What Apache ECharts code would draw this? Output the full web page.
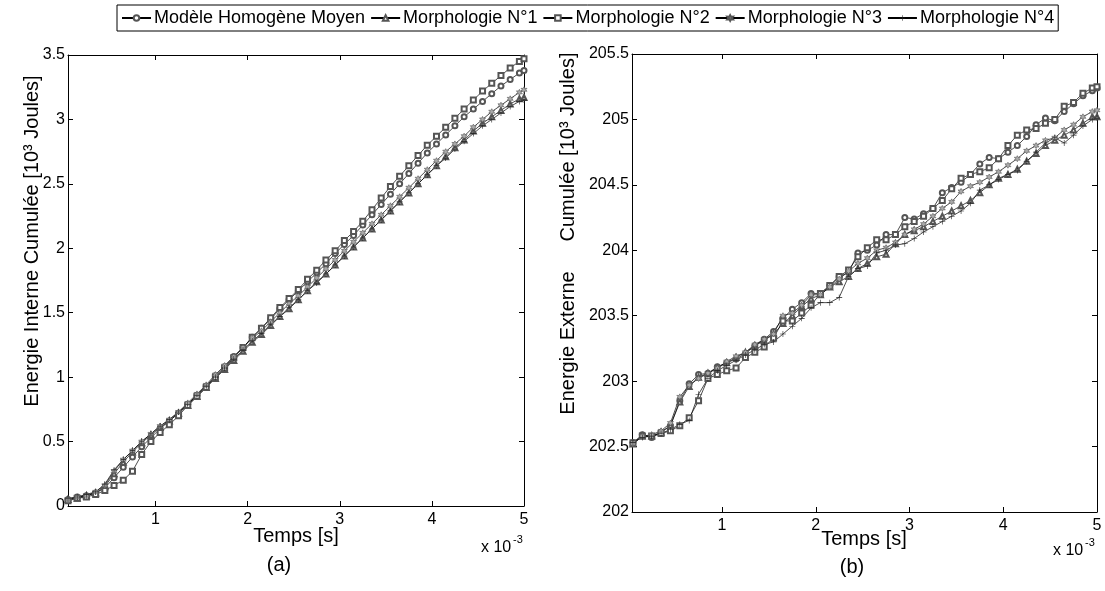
<!DOCTYPE html>
<html>
<head>
<meta charset="utf-8">
<script src="https://cdn.jsdelivr.net/npm/echarts@6/dist/echarts.min.js"></script>
<style>
html,body{margin:0;padding:0;background:#fff;}
#chart{width:1105px;height:591px;}
</style>
</head>
<body>
<div id="chart"></div>
<script>
// ---- data ----
const seriesNames = ['Modèle Homogène Moyen','Morphologie N°1','Morphologie N°2','Morphologie N°3','Morphologie N°4'];
const times = [0.05,0.15,0.25,0.35,0.45,0.55,0.65,0.75,0.85,0.95,1.05,1.15,1.25,1.35,1.45,1.55,1.65,1.75,1.85,1.95,2.05,2.15,2.25,2.35,2.45,2.55,2.65,2.75,2.85,2.95,3.05,3.15,3.25,3.35,3.45,3.55,3.65,3.75,3.85,3.95,4.05,4.15,4.25,4.35,4.45,4.55,4.65,4.75,4.85,4.95,5.0];
const xTickValues = [1,2,3,4,5];

// (a) Energie interne cumulée [10^3 J]
const intModele = [0.05,0.07,0.08,0.10,0.14,0.22,0.30,0.38,0.46,0.53,
0.60,0.66,0.72,0.79,0.86,0.93,1.01,1.08,1.16,1.23,
1.31,1.38,1.45,1.53,1.60,1.67,1.74,1.81,1.88,1.96,
2.03,2.10,2.18,2.26,2.34,2.42,2.50,2.58,2.66,2.74,
2.81,2.88,2.95,3.02,3.08,3.14,3.20,3.26,3.31,3.36,3.38];
const intN1 = [0.05,0.06,0.08,0.10,0.15,0.25,0.34,0.42,0.49,0.55,
0.61,0.66,0.72,0.78,0.85,0.92,0.99,1.06,1.13,1.20,
1.27,1.33,1.40,1.47,1.53,1.60,1.67,1.74,1.80,1.87,
1.94,2.01,2.08,2.15,2.22,2.29,2.36,2.43,2.50,2.57,
2.64,2.71,2.78,2.84,2.91,2.97,3.02,3.07,3.12,3.16,3.17];
const intN2 = [0.04,0.06,0.07,0.09,0.12,0.16,0.20,0.27,0.40,0.50,
0.57,0.63,0.70,0.78,0.85,0.92,1.00,1.07,1.15,1.23,
1.31,1.38,1.46,1.54,1.61,1.68,1.76,1.83,1.91,1.98,
2.06,2.13,2.21,2.30,2.39,2.48,2.56,2.64,2.72,2.80,
2.87,2.94,3.01,3.08,3.15,3.22,3.28,3.34,3.40,3.45,3.47];
const intN3 = [0.05,0.07,0.08,0.11,0.16,0.27,0.36,0.43,0.50,0.56,
0.62,0.67,0.73,0.80,0.87,0.94,1.02,1.09,1.16,1.23,
1.30,1.36,1.43,1.50,1.57,1.63,1.70,1.77,1.84,1.91,
1.98,2.05,2.12,2.19,2.26,2.33,2.40,2.47,2.54,2.61,
2.68,2.75,2.81,2.87,2.94,3.00,3.06,3.11,3.16,3.21,3.23];
const intN4 = [0.06,0.07,0.09,0.11,0.17,0.28,0.36,0.43,0.50,0.56,
0.62,0.67,0.73,0.79,0.86,0.93,1.00,1.07,1.14,1.21,
1.28,1.34,1.41,1.47,1.54,1.60,1.67,1.73,1.80,1.87,
1.94,2.01,2.08,2.15,2.22,2.29,2.36,2.43,2.50,2.57,
2.64,2.70,2.77,2.83,2.89,2.95,3.00,3.05,3.10,3.14,3.15];

// (b) Energie externe cumulée [10^3 J]
const extModele = [202.53,202.59,202.57,202.61,202.66,202.85,202.98,203.05,203.06,203.11,
203.14,203.17,203.21,203.27,203.32,203.38,203.48,203.55,203.60,203.67,
203.67,203.73,203.80,203.83,203.98,204.00,204.04,204.12,204.12,204.25,
204.24,204.28,204.32,204.44,204.48,204.52,204.58,204.66,204.71,204.70,
204.75,204.80,204.87,204.96,205.01,204.99,205.06,205.12,205.18,205.22,205.24];
const extN1 = [202.52,202.58,202.58,202.61,202.66,202.84,202.96,203.03,203.06,203.10,
203.14,203.18,203.22,203.27,203.31,203.36,203.44,203.50,203.57,203.63,
203.66,203.72,203.76,203.80,203.86,203.90,203.95,203.97,204.05,204.12,
204.15,204.18,204.22,204.26,204.30,204.34,204.38,204.44,204.50,204.55,
204.58,204.62,204.68,204.74,204.80,204.84,204.88,204.92,204.97,205.02,205.02];
const extN2 = [202.53,202.58,202.58,202.60,202.62,202.66,202.72,202.85,203.02,203.05,
203.08,203.10,203.18,203.22,203.26,203.33,203.46,203.46,203.52,203.58,
203.67,203.73,203.80,203.85,203.95,204.02,204.08,204.08,204.12,204.18,
204.22,204.26,204.32,204.38,204.47,204.55,204.58,204.60,204.63,204.70,
204.80,204.88,204.92,204.93,204.97,205.00,205.10,205.13,205.20,205.24,205.25];
const extN3 = [202.52,202.58,202.59,202.62,202.68,202.88,202.97,203.02,203.06,203.10,
203.15,203.19,203.22,203.28,203.32,203.36,203.50,203.52,203.58,203.66,
203.66,203.72,203.78,203.84,203.90,203.94,204.00,204.02,204.06,204.12,
204.16,204.20,204.26,204.32,204.37,204.45,204.49,204.52,204.56,204.60,
204.65,204.70,204.76,204.80,204.84,204.86,204.92,204.96,205.02,205.06,205.07];
const extN4 = [202.53,202.57,202.58,202.60,202.63,202.67,202.70,202.90,203.02,203.08,
203.12,203.16,203.20,203.24,203.28,203.30,203.36,203.42,203.48,203.56,
203.60,203.60,203.64,203.80,203.86,203.88,203.98,204.00,204.04,204.05,
204.09,204.14,204.18,204.22,204.26,204.30,204.36,204.46,204.50,204.54,
204.58,204.61,204.68,204.75,204.82,204.86,204.82,204.88,204.95,205.00,205.01];

const intSeries = [intModele,intN1,intN2,intN3,intN4];
const extSeries = [extModele,extN1,extN2,extN3,extN4];

// ---- style ----
const FONT = 'Liberation Sans, Arial, Helvetica, sans-serif';
const symbols = [
  'emptyCircle',
  'emptyTriangle',
  'emptyRect',
  'path://M5,0L6.3,2.8L9.3,2.5L7.6,5L9.3,7.5L6.3,7.2L5,10L3.7,7.2L0.7,7.5L2.4,5L0.7,2.5L3.7,2.8Z',
  'path://M4.5,0H5.5V4.5H10V5.5H5.5V10H4.5V5.5H0V4.5H4.5Z'
];
const symbolSizes = [5,5,5,6,6];
const symbolFill = ['#555','#555','#555','#aaa','#222'];

function mkSeries(arrs, gi) {
  return arrs.map((arr, i) => ({
    name: seriesNames[i],
    type: 'line',
    xAxisIndex: gi*2,
    yAxisIndex: gi*2,
    data: times.map((t, k) => [t, arr[k]]),
    symbol: symbols[i],
    symbolSize: symbolSizes[i],
    showAllSymbol: true,
    animation: false,
    lineStyle: {color: '#000', width: 0.7},
    itemStyle: {color: symbolFill[i], borderColor: i===4 ? '#222' : '#555', borderWidth: i===4 ? 0 : 0.6},
    emphasis: {disabled: true}
  }));
}

function xAxes(gi, min) {
  const base = {
    type: 'value', gridIndex: gi, min: min, max: 5,
    axisLine: {show: true, onZero: false, lineStyle: {color: '#000', width: 1}},
    splitLine: {show: false}
  };
  return [
    Object.assign({}, base, {
      position: 'bottom',
      axisTick: {show: true, inside: true, length: 5, customValues: xTickValues, lineStyle: {color: '#000'}},
      axisLabel: {show: true, customValues: xTickValues, color: '#000', fontSize: 16, fontFamily: FONT, margin: 6}
    }),
    Object.assign({}, base, {
      position: 'top',
      axisTick: {show: true, inside: true, length: 5, customValues: xTickValues, lineStyle: {color: '#000'}},
      axisLabel: {show: false}
    })
  ];
}
function yAxes(gi, min, max) {
  const base = {
    type: 'value', gridIndex: gi, min: min, max: max, interval: 0.5,
    axisLine: {show: true, onZero: false, lineStyle: {color: '#000', width: 1}},
    splitLine: {show: false},
    axisTick: {show: true, inside: true, length: 5, lineStyle: {color: '#000'}}
  };
  return [
    Object.assign({}, base, {
      position: 'left',
      axisLabel: {show: true, color: '#000', fontSize: 16, fontFamily: FONT, margin: 3}
    }),
    Object.assign({}, base, {
      position: 'right',
      axisLabel: {show: false}
    })
  ];
}

function txt(x, y, text, size, rot) {
  return {
    type: 'text', x: x, y: y, rotation: rot || 0, silent: true,
    style: {text: text, fontSize: size, fontFamily: FONT, fill: '#000',
      align: 'center', verticalAlign: 'middle', textAlign: 'center', textVerticalAlign: 'middle'}
  };
}
function txtL(x, y, text, size) {
  return {
    type: 'text', x: x, y: y, silent: true,
    style: {text: text, fontSize: size, fontFamily: FONT, fill: '#000',
      align: 'left', verticalAlign: 'middle', textAlign: 'left', textVerticalAlign: 'middle'}
  };
}

const chart = echarts.init(document.getElementById('chart'), null, {renderer: 'canvas'});
chart.setOption({
  backgroundColor: '#fff',
  animation: false,
  legend: {
    data: seriesNames,
    left: 117, top: 5,
    orient: 'horizontal',
    itemWidth: 29, itemHeight: 7, itemGap: 5,
    padding: [4, 4],
    borderColor: '#000', borderWidth: 1,
    backgroundColor: '#fff',
    selectedMode: false,
    textStyle: {fontSize: 18, fontFamily: FONT, color: '#000', padding: [0, 0, 0, -2]}
  },
  grid: [
    {left: 68, top: 55, width: 456, height: 451},
    {left: 632, top: 54, width: 465, height: 458}
  ],
  xAxis: xAxes(0, 0.05).concat(xAxes(1, 0.04)),
  yAxis: yAxes(0, 0, 3.5).concat(yAxes(1, 202, 205.5)),
  series: mkSeries(intSeries, 0).concat(mkSeries(extSeries, 1)),
  graphic: [
    txt(32, 241, 'Energie Interne Cumulée [10³ Joules]', 20, Math.PI/2),
    txt(568, 147, 'Cumulée [10³ Joules]', 20, Math.PI/2),
    txt(568, 343, 'Energie Externe', 20, Math.PI/2),
    txt(296, 536, 'Temps [s]', 20),
    txt(864, 539, 'Temps [s]', 20),
    txt(279, 565, '(a)', 20),
    txt(852, 567, '(b)', 20),
    txtL(481, 548, 'x 10', 16),
    txtL(513, 540, '-3', 11),
    txtL(1053, 551, 'x 10', 16),
    txtL(1085, 543, '-3', 11)
  ]
});
</script>
</body>
</html>
